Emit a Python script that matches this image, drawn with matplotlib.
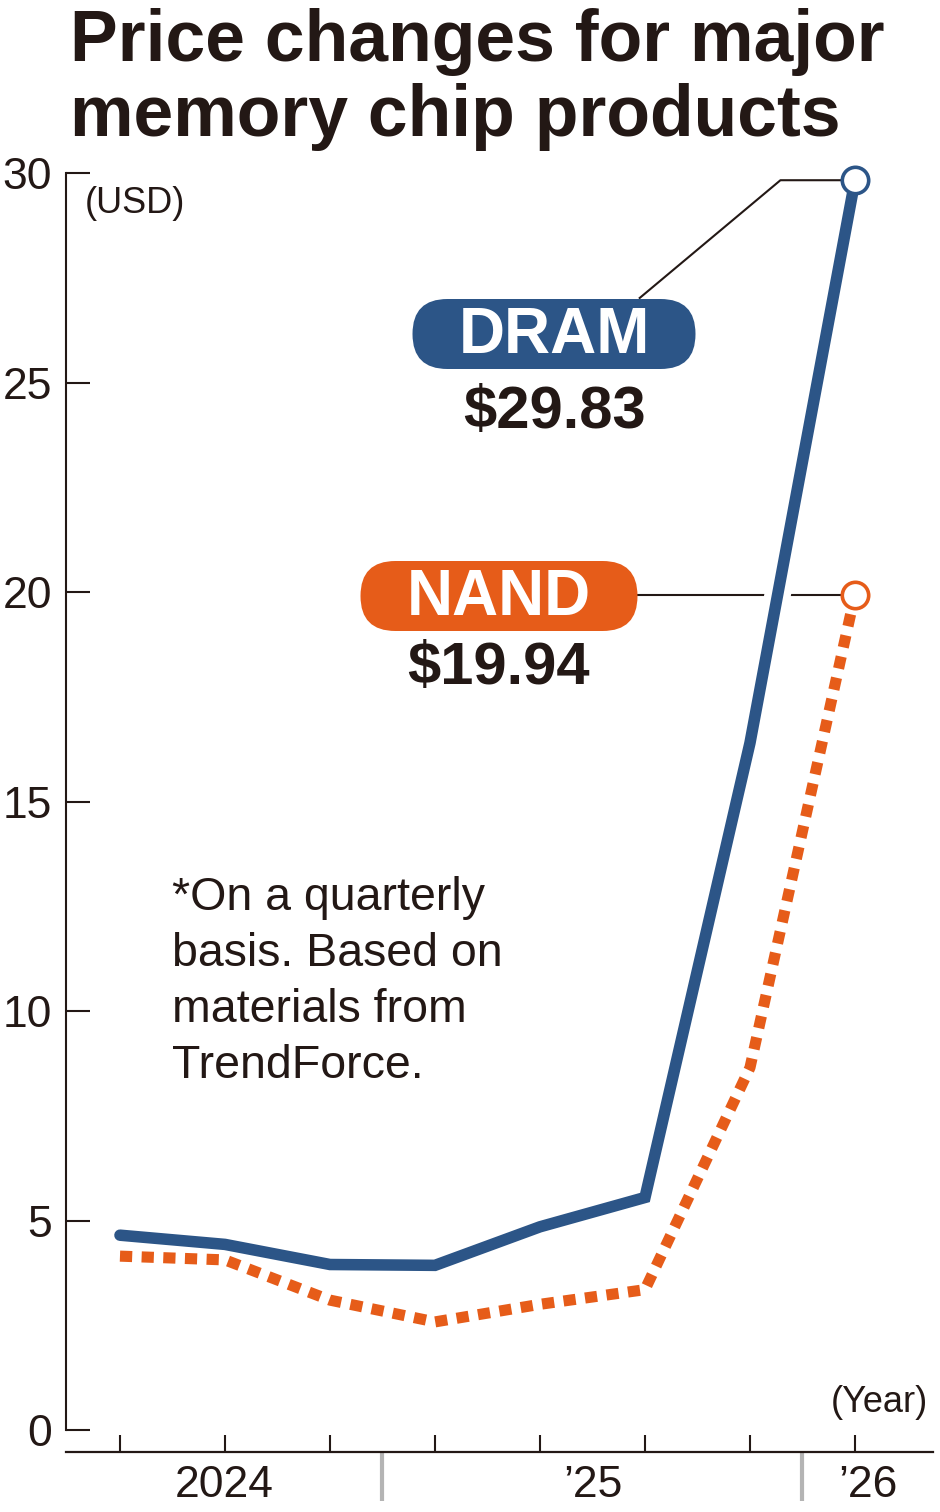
import numpy as np
import matplotlib
matplotlib.use('Agg')
import matplotlib.pyplot as plt
import matplotlib.patheffects as pe
from matplotlib.patches import FancyBboxPatch

plt.rcParams['font.family'] = ['Liberation Sans', 'DejaVu Sans']

# quarterly prices (USD), 2024 Q2 .. 2026 Q1
quarters = ['2024Q2', '2024Q3', '2024Q4', '2025Q1', '2025Q2', '2025Q3', '2025Q4', '2026Q1']
dram = [4.65, 4.43, 3.95, 3.93, 4.85, 5.55, 16.4, 29.83]
nand = [4.15, 4.06, 3.10, 2.58, 3.00, 3.35, 8.65, 19.94]
years = ['2024', '2025', '2026']
year_labels = ['2024', '\u201925', '\u201926']
yticks = [0, 5, 10, 15, 20, 25, 30]
note_lines = ['*On a quarterly', 'basis. Based on', 'materials from', 'TrendForce.']

BLUE = '#2c5587'
ORANGE = '#e65c19'
INK = '#231815'

x = np.arange(len(quarters))

fig = plt.figure(figsize=(9.4, 15.12), dpi=100)
# axes placed in pixels: left 66, right 933, bottom line 1452, top 140
ax = fig.add_axes([66 / 940, 60 / 1512, 867 / 940, 1312 / 1512])
xmin, xmax = -0.514, 7.743
ax.set_xlim(xmin, xmax)
ax.set_ylim(-0.525, 30.79)

for s in ['top', 'right']:
    ax.spines[s].set_visible(False)
ax.spines['left'].set_bounds(0, 30)
ax.spines['left'].set_linewidth(1.5)
ax.spines['left'].set_color(INK)
ax.spines['bottom'].set_linewidth(1.6)
ax.spines['bottom'].set_color(INK)

ax.set_yticks(yticks)
ax.set_yticklabels([str(v) for v in yticks])
ax.tick_params(axis='y', direction='in', length=17, width=1.5, color=INK,
               labelsize=32, labelcolor=INK, pad=10)
ax.set_xticks(x)
ax.set_xticklabels([])
ax.tick_params(axis='x', direction='in', length=12, width=1.5, color=INK)

# year labels and separators under the axis
qyear = [q[:4] for q in quarters]
xt = ax.get_xaxis_transform()
breaks = [i - 0.5 for i in range(1, len(qyear)) if qyear[i] != qyear[i - 1]]
edges = [xmin] + breaks + [xmax]
for k, lab in enumerate(year_labels):
    ax.text((edges[k] + edges[k + 1]) / 2, -0.0253, lab, transform=xt,
            ha='center', va='center', fontsize=32, color=INK)
for b in breaks:
    ax.plot([b, b], [0, -0.037], transform=xt, color='#b4b4b4',
            lw=3, clip_on=False, solid_capstyle='butt')

# leader lines (drawn below the series)
ax.plot([4.95, 6.29, 6.86], [27.02, dram[-1], dram[-1]], color=INK, lw=1.5, zorder=1)
ax.plot([4.92, 6.86], [nand[-1], nand[-1]], color=INK, lw=1.5, zorder=1)

# series
ax.plot(x, dram, color=BLUE, lw=8.3, solid_capstyle='round', solid_joinstyle='miter',
        zorder=2, path_effects=[pe.Stroke(linewidth=19, foreground='white'), pe.Normal()])
ax.plot(x, nand, color=ORANGE, lw=8, linestyle=(0, (1.1, 0.85)),
        dash_capstyle='butt', zorder=3)
ax.plot(x[-1], dram[-1], 'o', ms=19, mfc='white', mec=BLUE, mew=2.6, zorder=4)
ax.plot(x[-1], nand[-1], 'o', ms=19, mfc='white', mec=ORANGE, mew=2.6, zorder=4)

ax.text(0.022, 29.28, '(USD)', ha='left', va='center', fontsize=26, color=INK,
        transform=ax.get_yaxis_transform())

# overlay in pixel coordinates for title, pills and note
ov = fig.add_axes([0, 0, 1, 1], zorder=5)
ov.set_xlim(0, 940)
ov.set_ylim(1512, 0)
ov.axis('off')

ov.text(70, 61, 'Price changes for major', fontsize=51.5, fontweight='bold',
        color=INK, ha='left', va='baseline')
ov.text(70, 136, 'memory chip products', fontsize=51.5, fontweight='bold',
        color=INK, ha='left', va='baseline')


def pill(cx, cy, w, h, color, label, value, vy):
    ov.add_patch(FancyBboxPatch((cx - w / 2, cy - h / 2), w, h,
                                boxstyle='round,pad=0,rounding_size=%f' % (h / 2 - 0.1),
                                fc=color, ec='none'))
    ov.text(cx, cy + 2, label, fontsize=46, fontweight='bold', color='white',
            ha='center', va='center')
    ov.text(cx, vy, value, fontsize=43, fontweight='bold', color=INK,
            ha='center', va='center')


pill(554, 334, 283, 70, BLUE, 'DRAM', '$%.2f' % dram[-1], 413)
pill(499, 596, 277, 70, ORANGE, 'NAND', '$%.2f' % nand[-1], 668)

for i, line in enumerate(note_lines):
    ov.text(172, 910 + 56 * i, line, fontsize=33.5, color=INK, ha='left', va='baseline')

ov.text(928, 1403, '(Year)', fontsize=26, color=INK, ha='right', va='center')

fig.savefig('out.png', dpi=100)
